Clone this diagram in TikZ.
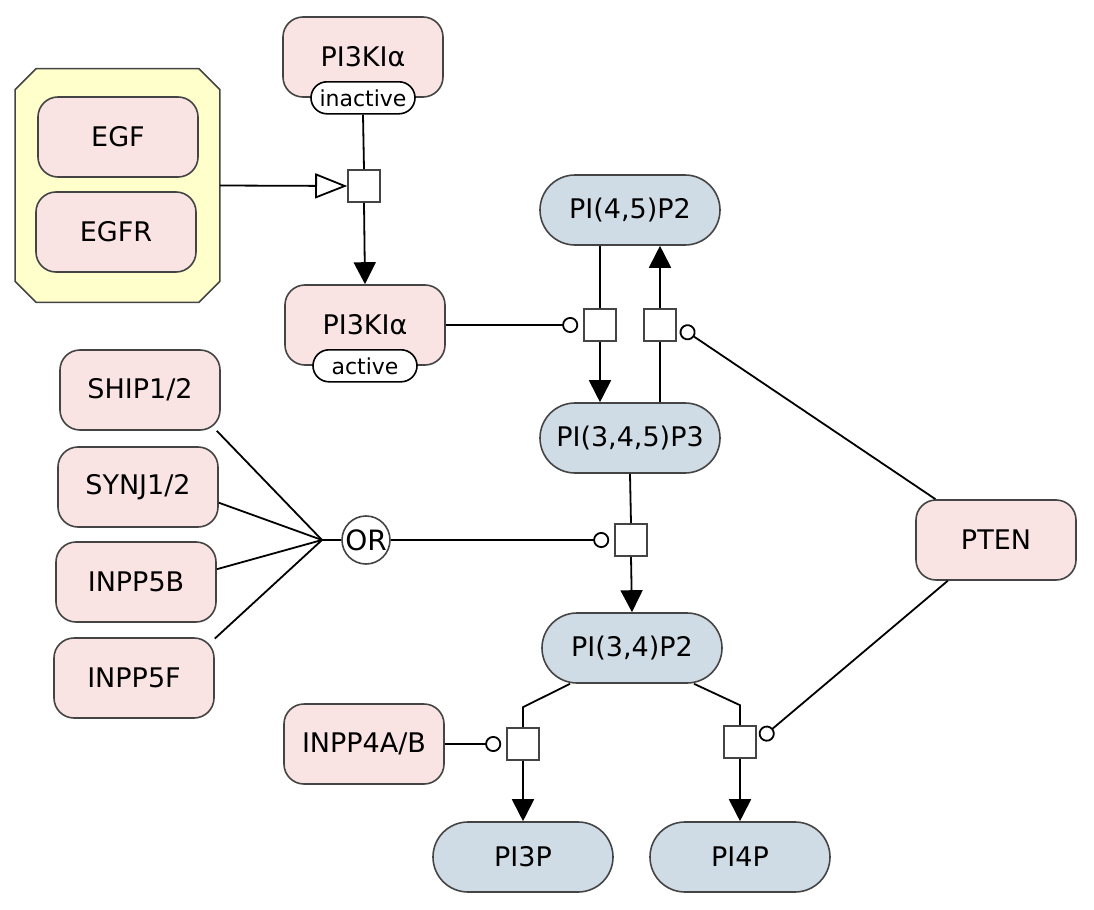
\documentclass[tikz,border=0pt]{standalone}
\usepackage{fontspec}
\setmainfont{DejaVu Sans}
\usetikzlibrary{arrows.meta}
\definecolor{macrofill}{HTML}{F9E3E3}
\definecolor{simplefill}{HTML}{D0DCE5}
\definecolor{cplxfill}{HTML}{FFFFCC}
\definecolor{edgegray}{HTML}{444444}
\tikzset{
  macro/.style={draw=edgegray, fill=macrofill, line width=0.8pt, rounded corners=10pt,
    minimum width=80pt, minimum height=40pt, font=\fontsize{13.5}{16}\selectfont},
  simple/.style={draw=edgegray, fill=simplefill, line width=0.8pt, rounded corners=17.5pt,
    minimum width=90pt, minimum height=35pt, font=\fontsize{13.5}{16}\selectfont},
  statelbl/.style={draw=black, fill=white, line width=0.8pt, rounded corners=8pt,
    minimum width=52pt, minimum height=16pt, inner sep=0pt, font=\fontsize{11}{13}\selectfont},
  procbox/.style={draw=edgegray, fill=white, line width=0.8pt, minimum size=16pt, inner sep=0pt},
  ornode/.style={circle, draw=edgegray, fill=white, line width=0.8pt, minimum size=24pt,
    inner sep=0pt, font=\fontsize{14}{16}\selectfont},
  cplx/.style={minimum width=102pt, minimum height=116.5pt, inner sep=0pt},
  cplxline/.style={draw=edgegray, fill=cplxfill, line width=0.8pt},
  link/.style={line width=0.9pt},
  arr/.style={link, -{Triangle[length=11pt,width=11pt]}},
  stim/.style={link, -{Triangle[open,length=16pt,width=12.5pt,fill=white]}},
  modu/.style={link, -{Circle[open,length=8pt,fill=white]}, shorten >=2.5pt}
}

\begin{document}
\begin{tikzpicture}[x=0.5pt,y=-0.5pt]
\useasboundingbox (0,0) rectangle (1094,910);
% EGF:EGFR complex
\node[cplx] (egfcplx) at (117.5,185.5) {};
\draw[cplxline] ([yshift=-10.5pt]egfcplx.north west) -- ([xshift=10.5pt]egfcplx.north west)
  -- ([xshift=-10.5pt]egfcplx.north east) -- ([yshift=-10.5pt]egfcplx.north east)
  -- ([yshift=10.5pt]egfcplx.south east) -- ([xshift=-10.5pt]egfcplx.south east)
  -- ([xshift=10.5pt]egfcplx.south west) -- ([yshift=10.5pt]egfcplx.south west) -- cycle;
\node[macro] (egf) at (118,137) {EGF};
\node[macro] (egfr) at (116,232) {EGFR};
% PI3K
\node[macro] (pi3kin) at (363,57) {PI3KIα};
\node[statelbl] (pi3kinlbl) at (pi3kin.south) {inactive};
\node[macro] (pi3kact) at (365,325) {PI3KIα};
\node[statelbl] (pi3kactlbl) at (pi3kact.south) {active};
% phosphoinositides
\node[simple] (pip45) at (630,210) {PI(4,5)P2};
\node[simple] (pip345) at (630,438) {PI(3,4,5)P3};
\node[simple] (pip34) at (632,648) {PI(3,4)P2};
\node[simple] (pi3p) at (523,857) {PI3P};
\node[simple] (pi4p) at (740,857) {PI4P};
% phosphatases
\node[macro] (ship) at (140,390) {SHIP1/2};
\node[macro] (synj) at (138,487) {SYNJ1/2};
\node[macro] (inppb) at (136,582) {INPP5B};
\node[macro] (inppf) at (134,678) {INPP5F};
\node[macro] (inpp4) at (364,744) {INPP4A/B};
\node[macro] (pten) at (996,540) {PTEN};
\node[ornode] (orgate) at (366,540) {OR};
\coordinate (orjoin) at (322,540);
% process nodes
\node[procbox] (pr1) at (364,186) {};
\node[procbox] (pr2) at (600,325) {};
\node[procbox] (pr3) at (660,325) {};
\node[procbox] (pr4) at (631,540) {};
\node[procbox] (pr5) at (523,744) {};
\node[procbox] (pr6) at (740,742) {};

\draw[link] (pi3kinlbl.south) -- (pr1.north);
\draw[arr] (pr1.south) -- (pi3kact.north);
\draw[stim] (egfcplx.east) -- (pr1.west);

\draw[link] (pr2 |- pip45.south) -- (pr2.north);
\draw[arr] (pr2.south) -- (pr2 |- pip345.north);
\draw[link] (pr3 |- pip345.north) -- (pr3.south);
\draw[arr] (pr3.north) -- (pr3 |- pip45.south);
\draw[modu] (pi3kact.east) -- (pr2.west);
\draw[modu] (pten) -- (pr3.east);

\draw[link] (pip345.south) -- (pr4.north);
\draw[arr] (pr4.south) -- (pip34.north);
\draw[link] (ship.-28) -- (orjoin);
\draw[link] (synj.-11) -- (orjoin);
\draw[link] (inppb.9) -- (orjoin);
\draw[link] (inppf.26) -- (orjoin);
\draw[link] (orjoin) -- (orgate.west);
\draw[modu] (orgate.east) -- (pr4.west);

\draw[link] ([xshift=-31pt]pip34.south) -- ([yshift=10pt]pr5.north) -- (pr5.north);
\draw[arr] (pr5.south) -- (pi3p.north);
\draw[link] ([xshift=31pt]pip34.south) -- ([yshift=10pt]pr6.north) -- (pr6.north);
\draw[arr] (pr6.south) -- (pi4p.north);
\draw[modu] (inpp4.east) -- (pr5.west);
\draw[modu] (pten) -- (pr6.east);
\end{tikzpicture}
\end{document}
